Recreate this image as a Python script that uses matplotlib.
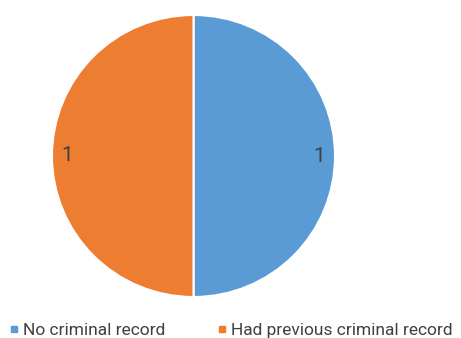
import matplotlib.pyplot as plt
from matplotlib.lines import Line2D

categories = ['No criminal record', 'Had previous criminal record']
values = [1, 1]
colors = ['#5B9BD5', '#ED7D31']

plt.rcParams['font.family'] = ['Roboto', 'DejaVu Sans']

fig = plt.figure(figsize=(4.61, 3.38), dpi=100)
ax = fig.add_axes([52 / 461, 1 - 297 / 338, 283 / 461, 282 / 338])

wedges, texts, autotexts = ax.pie(
    values, colors=colors, startangle=90, counterclock=False,
    autopct=lambda p: '%d' % round(p * sum(values) / 100),
    pctdistance=0.89, radius=1,
    wedgeprops=dict(edgecolor='white', linewidth=1.5),
    textprops=dict(fontsize=15, color='#404040'))
ax.set_xlim(-1.0, 1.0)
ax.set_ylim(-1.0, 1.0)
ax.set_aspect('auto')

handles = [Line2D([], [], marker='s', linestyle='', color=c, markersize=5) for c in colors]
fig.legend(handles, categories, loc='lower left', bbox_to_anchor=(10 / 461, 0.0),
           ncol=2, frameon=False, fontsize=12.5, labelcolor='#404040',
           borderpad=0, borderaxespad=0,
           handlelength=0.5, handletextpad=0.25, columnspacing=3.0)

fig.savefig('out.png', dpi=100)
